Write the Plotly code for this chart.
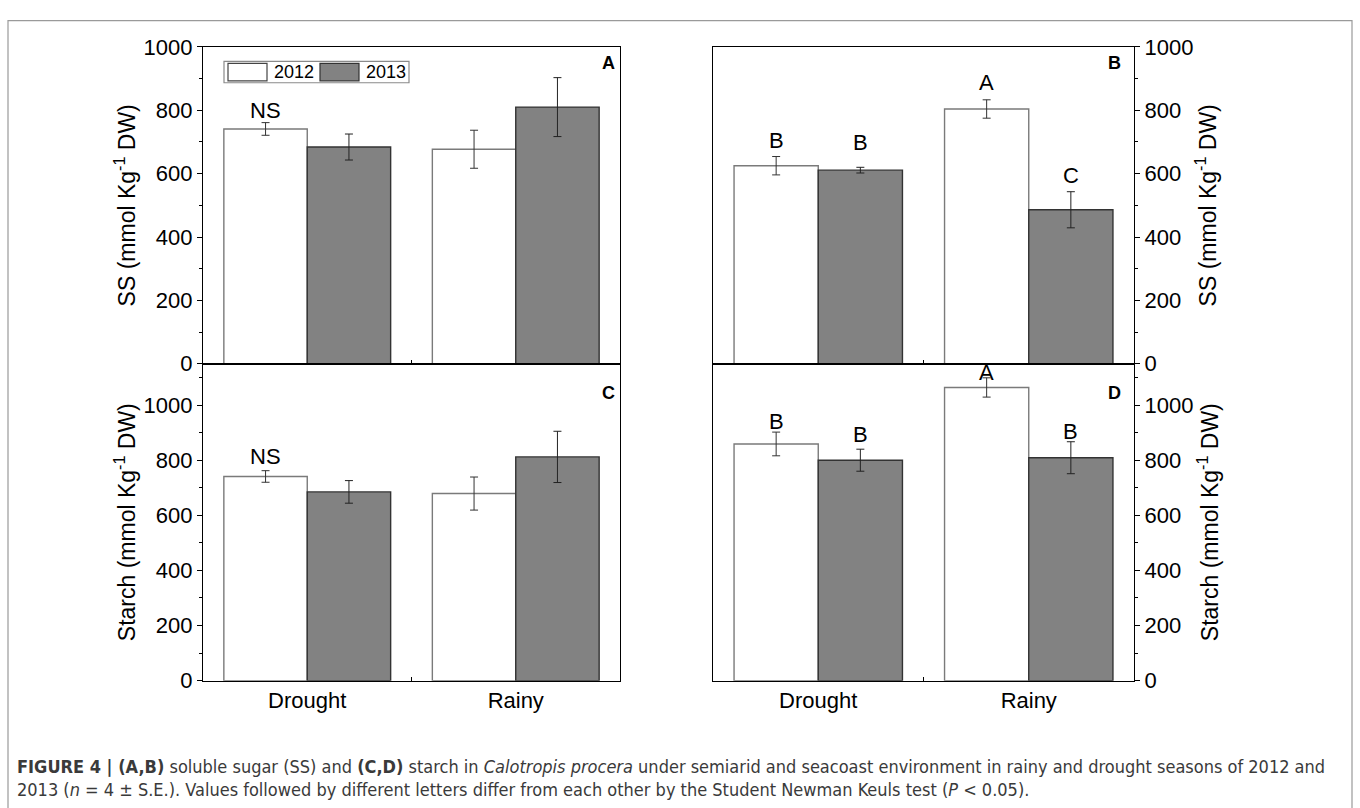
import plotly.graph_objects as go

# ---------------- data ----------------
categories = ["Drought", "Rainy"]
years = ["2012", "2013"]

# Panel A: soluble sugar (semiarid)
ss_a_2012 = [741, 677]
ss_a_2012_se = [20, 60]
ss_a_2013 = [684, 810]
ss_a_2013_se = [41, 93]
# Panel B: soluble sugar (seacoast)
ss_b_2012 = [625, 804]
ss_b_2012_se = [29, 29]
ss_b_2013 = [611, 486]
ss_b_2013_se = [9, 57]
# Panel C: starch (semiarid)
st_c_2012 = [741, 679]
st_c_2012_se = [21, 60]
st_c_2013 = [685, 812]
st_c_2013_se = [41, 93]
# Panel D: starch (seacoast)
st_d_2012 = [859, 1064]
st_d_2012_se = [43, 35]
st_d_2013 = [800, 809]
st_d_2013_se = [40, 58]

# significance letters and their heights (data units)
lab_a_2012 = ["NS", ""]; laby_a_2012 = [799, 0]
lab_a_2013 = ["", ""];   laby_a_2013 = [0, 0]
lab_b_2012 = ["B", "A"]; laby_b_2012 = [704, 889]
lab_b_2013 = ["B", "C"]; laby_b_2013 = [697, 593]
lab_c_2012 = ["NS", ""]; laby_c_2012 = [813, 0]
lab_c_2013 = ["", ""];   laby_c_2013 = [0, 0]
lab_d_2012 = ["B", "A"]; laby_d_2012 = [941, 1117]
lab_d_2013 = ["B", "B"]; laby_d_2013 = [892, 904]

ss_title = "SS (mmol Kg<sup>-1</sup> DW)"
st_title = "Starch (mmol Kg<sup>-1</sup> DW)"

# ---------------- layout helpers ----------------
W, H = 1360, 808
def px(x):
    return x / W
def py(y):
    return 1 - y / H

FONT = "Liberation Sans, Arial, sans-serif"
CAPFONT = "Liberation Sans Narrow, Arial Narrow, DejaVu Sans Condensed, sans-serif"
xpos = [i + 1 for i in range(len(categories))]

panels = [
    dict(ax="", v12=ss_a_2012, e12=ss_a_2012_se, v13=ss_a_2013, e13=ss_a_2013_se,
         l12=lab_a_2012, ly12=laby_a_2012, l13=lab_a_2013, ly13=laby_a_2013, letter="A"),
    dict(ax="2", v12=ss_b_2012, e12=ss_b_2012_se, v13=ss_b_2013, e13=ss_b_2013_se,
         l12=lab_b_2012, ly12=laby_b_2012, l13=lab_b_2013, ly13=laby_b_2013, letter="B"),
    dict(ax="3", v12=st_c_2012, e12=st_c_2012_se, v13=st_c_2013, e13=st_c_2013_se,
         l12=lab_c_2012, ly12=laby_c_2012, l13=lab_c_2013, ly13=laby_c_2013, letter="C"),
    dict(ax="4", v12=st_d_2012, e12=st_d_2012_se, v13=st_d_2013, e13=st_d_2013_se,
         l12=lab_d_2012, ly12=laby_d_2012, l13=lab_d_2013, ly13=laby_d_2013, letter="D"),
]

fig = go.Figure()
annotations = []
for p in panels:
    xa = "x" + p["ax"]
    ya = "y" + p["ax"]
    fig.add_trace(go.Bar(
        x=xpos, y=p["v12"], name=years[0], xaxis=xa, yaxis=ya, offsetgroup="a",
        marker=dict(color="white", line=dict(color="#7a7a7a", width=1.4)),
        error_y=dict(type="data", array=p["e12"], color="#333333", thickness=1, width=4),
        showlegend=False))
    fig.add_trace(go.Bar(
        x=xpos, y=p["v13"], name=years[1], xaxis=xa, yaxis=ya, offsetgroup="b",
        marker=dict(color="#828282", line=dict(color="#333333", width=1.4)),
        error_y=dict(type="data", array=p["e13"], color="#222222", thickness=1, width=4),
        showlegend=False))
    for labs, lys, off in [(p["l12"], p["ly12"], -0.2), (p["l13"], p["ly13"], 0.2)]:
        for xi, lab, ly in zip(xpos, labs, lys):
            if lab:
                annotations.append(dict(x=xi + off, y=ly, xref=xa, yref=ya, text=lab,
                                        showarrow=False, xanchor="center", yanchor="middle",
                                        font=dict(family=FONT, size=22, color="black")))

# panel letters
letter_pos = {"A": (608, 53), "B": (1114, 53), "C": (608, 393), "D": (1114, 393)}
for p in panels:
    lx, ly = letter_pos[p["letter"]]
    annotations.append(dict(x=px(lx), y=py(ly), xref="paper", yref="paper", text="<b>%s</b>" % p["letter"],
                            showarrow=False, xanchor="center", yanchor="middle",
                            font=dict(family=FONT, size=18, color="black")))

# legend (manual, wide swatches)
shapes = []
shapes.append(dict(type="rect", xref="paper", yref="paper", x0=px(224), x1=px(409), y0=py(73), y1=py(51),
                   line=dict(color="#8a8a8a", width=1.2), fillcolor="white", layer="above"))
shapes.append(dict(type="rect", xref="paper", yref="paper", x0=px(228), x1=px(267), y0=py(71), y1=py(53),
                   line=dict(color="#444444", width=1.2), fillcolor="white", layer="above"))
shapes.append(dict(type="rect", xref="paper", yref="paper", x0=px(320), x1=px(359), y0=py(71), y1=py(53),
                   line=dict(color="#333333", width=1.2), fillcolor="#828282", layer="above"))
annotations.append(dict(x=px(272), y=py(62), xref="paper", yref="paper", text=years[0], showarrow=False,
                        xanchor="left", yanchor="middle", font=dict(family=FONT, size=18, color="black")))
annotations.append(dict(x=px(364), y=py(62), xref="paper", yref="paper", text=years[1], showarrow=False,
                        xanchor="left", yanchor="middle", font=dict(family=FONT, size=18, color="black")))

# outer frame
shapes.append(dict(type="path", xref="paper", yref="paper",
                   path="M %f %f L %f %f L %f %f L %f %f" % (px(8), py(830), px(8), py(9), px(1352), py(9), px(1352), py(830)),
                   line=dict(color="#9a9a9a", width=1.2)))

# caption
caption = ("<b>FIGURE 4 | (A,B)</b> soluble sugar (SS) and <b>(C,D)</b> starch in <i>Calotropis procera</i> "
           "under semiarid and seacoast environment in rainy and drought seasons of 2012 and<br>"
           "2013 (<i>n</i> = 4 ± S.E.). Values followed by different letters differ from each other by the "
           "Student Newman Keuls test (<i>P</i> &lt; 0.05).")
annotations.append(dict(x=px(15), y=py(766), xref="paper", yref="paper", text=caption, showarrow=False,
                        xanchor="left", yanchor="top", align="left",
                        font=dict(family=CAPFONT, size=18, color="#3a3a3a")))

xA = [px(203), px(620)]
xB = [px(713), px(1134)]
yT = [py(363), py(36)]
yB = [py(690), py(363)]

def xaxis(domain, anchor, labels):
    return dict(domain=domain, anchor=anchor, range=[0.5, 2.5], showline=True, linecolor="black",
                linewidth=1.3, mirror=True, showgrid=False, zeroline=False,
                tickvals=xpos, ticktext=categories, ticks="",
                showticklabels=labels, tickfont=dict(family=FONT, size=22, color="black"),
                minor=dict(tickvals=[1.5], ticks="inside", ticklen=4, tickcolor="black", tickwidth=1.3))

def yaxis(domain, anchor, side, rng, title, standoff):
    return dict(domain=domain, anchor=anchor, side=side, range=rng, showline=True, linecolor="black",
                linewidth=1.3, mirror=True, showgrid=False, zeroline=False,
                tickmode="array", tickvals=[0, 200, 400, 600, 800, 1000], ticks="outside", ticklen=5,
                tickcolor="black", tickwidth=1.3,
                minor=dict(tickvals=[100, 300, 500, 700, 900, 1100], ticks="outside", ticklen=3,
                           tickcolor="black", tickwidth=1.3),
                tickfont=dict(family=FONT, size=22, color="black"),
                title=dict(text=title, font=dict(family=FONT, size=23, color="black"), standoff=standoff))

fig.update_layout(
    width=W, height=H, margin=dict(l=0, r=0, t=0, b=0),
    paper_bgcolor="white", plot_bgcolor="rgba(0,0,0,0)",
    barmode="group", bargap=0.2, bargroupgap=0,
    xaxis=xaxis(xA, "y", False), yaxis=yaxis(yT, "x", "left", [0, 1000], ss_title, 1),
    xaxis2=xaxis(xB, "y2", False), yaxis2=yaxis(yT, "x2", "right", [0, 1000], ss_title, 7),
    xaxis3=xaxis(xA, "y3", True), yaxis3=yaxis(yB, "x3", "left", [0, 1150], st_title, 1),
    xaxis4=xaxis(xB, "y4", True), yaxis4=yaxis(yB, "x4", "right", [0, 1150], st_title, 7),
    annotations=annotations, shapes=shapes, showlegend=False,
)

fig.write_html("out.html")
